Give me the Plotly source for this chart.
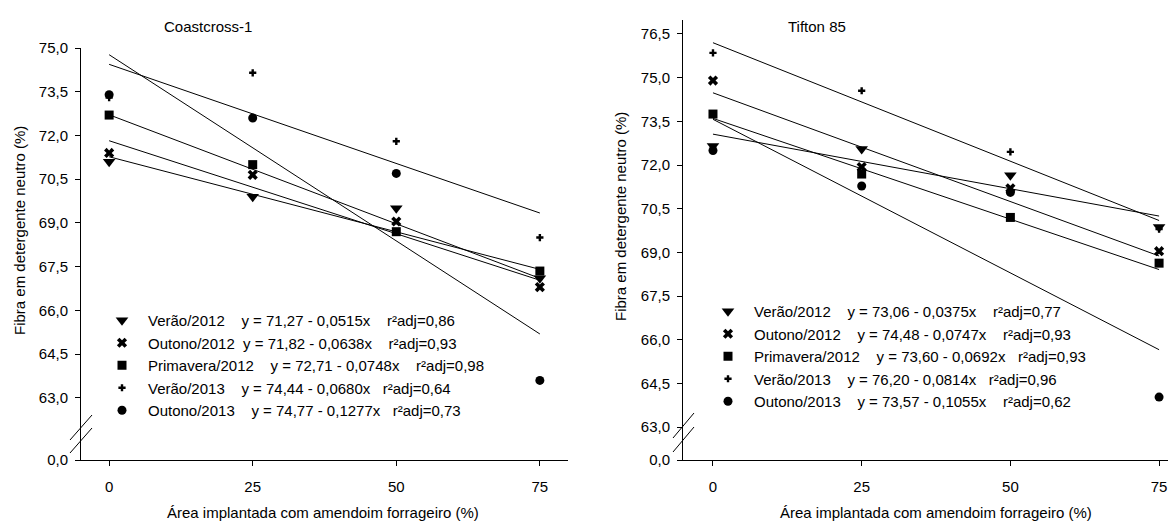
import plotly.graph_objects as go

# ---------------- data ----------------
x_levels = [0, 25, 50, 75]
series_names = ["Verão/2012", "Outono/2012", "Primavera/2012", "Verão/2013", "Outono/2013"]

# Coastcross-1 observed means
coast_verao2012 = [71.1, 69.9, 69.5, 67.1]
coast_outono2012 = [71.4, 70.65, 69.05, 66.8]
coast_primavera2012 = [72.7, 71.0, 68.7, 67.35]
coast_verao2013 = [73.3, 74.15, 71.8, 68.5]
coast_outono2013 = [73.4, 72.6, 70.7, 63.6]
coast_intercepts = [71.27, 71.82, 72.71, 74.44, 74.77]
coast_slopes = [-0.0515, -0.0638, -0.0748, -0.0680, -0.1277]
coast_r2 = ["0,86", "0,93", "0,98", "0,64", "0,73"]

# Tifton 85 observed means
tifton_verao2012 = [72.65, 72.55, 71.65, 69.87]
tifton_outono2012 = [74.9, 71.93, 71.2, 69.04]
tifton_primavera2012 = [73.75, 71.69, 70.2, 68.63]
tifton_verao2013 = [75.85, 74.55, 72.45, 69.8]
tifton_outono2013 = [72.5, 71.28, 71.06, 64.03]
tifton_intercepts = [73.06, 74.48, 73.60, 76.20, 73.57]
tifton_slopes = [-0.0375, -0.0747, -0.0692, -0.0814, -0.1055]
tifton_r2 = ["0,77", "0,93", "0,93", "0,96", "0,62"]

x_tick_labels = ["0", "25", "50", "75"]
coast_ytick_vals = [60.87, 63.0, 64.5, 66.0, 67.5, 69.0, 70.5, 72.0, 73.5, 75.0]
coast_ytick_text = ["0,0", "63,0", "64,5", "66,0", "67,5", "69,0", "70,5", "72,0", "73,5", "75,0"]
tifton_ytick_vals = [61.87, 63.0, 64.5, 66.0, 67.5, 69.0, 70.5, 72.0, 73.5, 75.0, 76.5]
tifton_ytick_text = ["0,0", "63,0", "64,5", "66,0", "67,5", "69,0", "70,5", "72,0", "73,5", "75,0", "76,5"]

# ---------------- style ----------------
PAGE_MARGIN = 8          # default body margin of the html page
W, H = 1176 - 2 * PAGE_MARGIN, 529 - 2 * PAGE_MARGIN
FONT = "Arial, Liberation Sans, sans-serif"
symbols = ["triangle-down", "x", "square", "cross", "circle"]
sizes = [11, 9, 9, 6, 9]
coast_gaps = [(4, 4), (2, 4), (4, 4), (4, 3), (4, 3)]
tifton_gaps = [(4, 4), (4, 4), (4, 3), (4, 3), (4, 4)]

coast_data = [coast_verao2012, coast_outono2012, coast_primavera2012, coast_verao2013, coast_outono2013]
tifton_data = [tifton_verao2012, tifton_outono2012, tifton_primavera2012, tifton_verao2013, tifton_outono2013]


def px(x):
    return (x - PAGE_MARGIN) / W


def py(y):
    return 1 - (y - PAGE_MARGIN) / H


NB = "\u00a0"


def label(name, a, b, r, gaps):
    g1, g2 = gaps
    return (f"{name}{NB*g1}y = {a:.2f}".replace(".", ",") +
            f" - {abs(b):.4f}x".replace(".", ",") + f"{NB*g2}r²adj={r}")


fig = go.Figure()


def add_panel(data, intercepts, slopes, r2, gaps, xa, ya, leg):
    for a, b in zip(intercepts, slopes):
        xs = [x_levels[0], x_levels[-1]]
        fig.add_trace(go.Scatter(x=xs, y=[a + b * v for v in xs], mode="lines",
                                 line=dict(color="black", width=1), showlegend=False,
                                 xaxis=xa, yaxis=ya, hoverinfo="skip"))
    for i, ys in enumerate(data):
        fig.add_trace(go.Scatter(x=x_levels, y=ys, mode="markers",
                                 marker=dict(symbol=symbols[i], size=sizes[i], color="black",
                                             line=dict(width=0)),
                                 name=label(series_names[i], intercepts[i], slopes[i], r2[i], gaps[i]),
                                 xaxis=xa, yaxis=ya, legend=leg))


add_panel(coast_data, coast_intercepts, coast_slopes, coast_r2, coast_gaps, "x", "y", "legend")
add_panel(tifton_data, tifton_intercepts, tifton_slopes, tifton_r2, tifton_gaps, "x2", "y2", "legend2")

axis_common = dict(showline=True, linecolor="black", linewidth=1, showgrid=False, zeroline=False,
                   ticks="outside", ticklen=5, tickcolor="black", tickwidth=1, automargin=False,
                   tickfont=dict(family=FONT, size=15, color="black"))

fig.update_layout(
    template="none",
    width=W, height=H, margin=dict(l=0, r=0, t=0, b=0, pad=0), autosize=False,
    plot_bgcolor="white", paper_bgcolor="white",
    font=dict(family=FONT, size=15, color="black"),
    xaxis=dict(domain=[px(81), px(568)], range=[-4.9, 79.9], anchor="y",
               tickvals=x_levels, ticktext=x_tick_labels, ticklabelstandoff=8, **axis_common),
    yaxis=dict(domain=[py(460), py(48)], range=[coast_ytick_vals[0], 75.0], anchor="x",
               tickvals=coast_ytick_vals, ticktext=coast_ytick_text, ticklabelstandoff=4, **axis_common),
    xaxis2=dict(domain=[px(683), px(1168)], range=[-5.04, 76.5], anchor="y2",
                tickvals=x_levels, ticktext=x_tick_labels, ticklabelstandoff=8, **axis_common),
    yaxis2=dict(domain=[py(460), py(20)], range=[tifton_ytick_vals[0], 76.98], anchor="x2",
                tickvals=tifton_ytick_vals, ticktext=tifton_ytick_text, ticklabelstandoff=4, **axis_common),
    legend=dict(x=px(96), y=py(304), xanchor="left", yanchor="top", bgcolor="rgba(0,0,0,0)",
                font=dict(family=FONT, size=15, color="black"), itemwidth=42, borderwidth=0),
    legend2=dict(x=px(702), y=py(295), xanchor="left", yanchor="top", bgcolor="rgba(0,0,0,0)",
                 font=dict(family=FONT, size=15, color="black"), itemwidth=42, borderwidth=0),
)

annotations = [
    dict(text="Coastcross-1", x=px(208), y=py(27)),
    dict(text="Tifton 85", x=px(817), y=py(26)),
    dict(text="Área implantada com amendoim forrageiro (%)", x=px(323), y=py(512)),
    dict(text="Área implantada com amendoim forrageiro (%)", x=px(936), y=py(512)),
    dict(text="Fibra em detergente neutro (%)", x=px(20), y=py(231), textangle=-90),
    dict(text="Fibra em detergente neutro (%)", x=px(620), y=py(217), textangle=-90),
]
for a in annotations:
    fig.add_annotation(xref="paper", yref="paper", showarrow=False, xanchor="center", yanchor="middle",
                       font=dict(family=FONT, size=15, color="black"), **a)

# axis-break marks
breaks = [((70, 440), (92, 415)), ((70, 453), (92, 428)),
          ((673, 438), (694, 413)), ((673, 452), (694, 427))]
for (x0, y0), (x1, y1) in breaks:
    fig.add_shape(type="line", xref="paper", yref="paper", x0=px(x0), y0=py(y0), x1=px(x1), y1=py(y1),
                  line=dict(color="black", width=1))

fig.write_html("out.html")
